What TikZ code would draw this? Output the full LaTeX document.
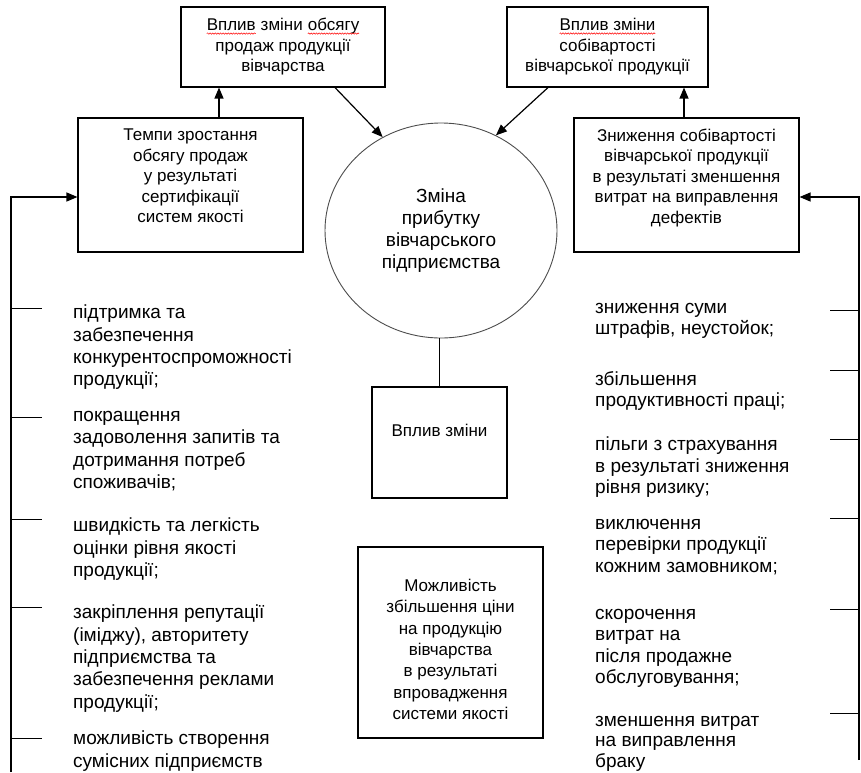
\documentclass[tikz,border=0pt]{standalone}
\usepackage{fontspec}
\setmainfont{Liberation Sans}
\usetikzlibrary{arrows.meta,shapes.geometric,decorations.pathmorphing}

\tikzset{
  blok/.style={draw, line width=1.1pt, align=center, inner sep=0pt,
    font=\fontsize{17}{20.5}\selectfont},
  kolo/.style={ellipse, draw=black!70, line width=0.9pt, align=center, inner sep=0pt,
    font=\fontsize{19}{22}\selectfont},
  punkt/.style={align=left, anchor=north west, inner sep=0pt,
    font=\fontsize{19}{22.3}\selectfont, execute at begin node=\strut},
  strilka/.style={-{Triangle[length=11pt,width=9pt]}, line width=1.2pt},
  rys/.style={line width=1pt},
}
% red spell-check wave under a word
\newcommand\hvylia[1]{\tikz[baseline=(hv.base)]{\node[draw=none, inner sep=0pt, outer sep=0pt,
    minimum width=0pt, minimum height=0pt] (hv) {#1};
  \draw[red, line width=0.5pt, decorate, decoration={snake, amplitude=0.7pt, segment length=2.6pt}]
    ([yshift=-2.6pt]hv.base west) -- ([yshift=-2.6pt]hv.base east);}}

\begin{document}
\begin{tikzpicture}[x=1pt,y=-1pt]
  \useasboundingbox (0,0) rectangle (861,772);

  % top boxes
  \node[blok, minimum width=204pt, minimum height=80pt] (obsyag) at (283,47)
    {\hvylia{Вплив} зміни \hvylia{обсягу}\\продаж продукції\\вівчарства};
  \node[blok, minimum width=201pt, minimum height=80pt] (sobiv) at (607.5,47)
    {\hvylia{Вплив зміни}\\собівартості\\вівчарської продукції};

  % side boxes
  \node[blok, minimum width=225pt, minimum height=134pt, text depth=18pt] (tempy) at (190.5,185)
    {Темпи зростання\\обсягу продаж\\у результаті\\сертифікації\\систем якості};
  \node[blok, minimum width=225pt, minimum height=134pt, text depth=18pt] (znyzh) at (686.5,185)
    {Зниження собівартості\\вівчарської продукції\\в результаті зменшення\\витрат на виправлення\\дефектів};

  % centre
  \node[kolo, minimum width=232pt, minimum height=215pt] (kolo) at (441,230.5)
    {Зміна\\прибутку\\вівчарського\\підприємства};
  \node[blok, minimum width=135pt, minimum height=111pt, text depth=24pt] (vplyv) at (439.5,442.5)
    {Вплив зміни};
  \node[blok, minimum width=185pt, minimum height=191pt, text height=154pt,
    font=\fontsize{17}{21.3}\selectfont] (tsina) at (450.5,642.5)
    {Можливість\\збільшення ціни\\на продукцію\\вівчарства\\в результаті\\впровадження\\системи якості};

  % arrows
  \draw[strilka] (tempy.north -| 219,0) -- (obsyag.south -| 219,0);
  \draw[strilka] (znyzh.north -| 684,0) -- (sobiv.south -| 684,0);
  \draw[strilka] (obsyag.south -| 335,0) -- (kolo.122);
  \draw[strilka] (sobiv.south -| 548,0) -- (kolo.60);
  \draw[rys] (kolo.south -| vplyv.north) -- (vplyv.north);

  % feedback lines
  \coordinate (livyi) at (11,772);
  \coordinate (pravyi) at (859,760);
  \draw[strilka] (livyi) |- (tempy.west |- 0,197);
  \draw[strilka] (pravyi) |- (znyzh.east |- 0,197);
  \foreach \y in {308,417,519,607,738}
    \draw[rys] (11,\y) -- (42,\y);
  \foreach \y in {310,370,439,518,609,713}
    \draw[rys] (830,\y) -- (859,\y);

  % left list
  \node[punkt] (l1) at (73,305) {підтримка та\\забезпечення\\конкурентоспроможності\\продукції;};
  \node[punkt] (l2) at (73,411) {покращення\\задоволення запитів та\\дотримання потреб\\споживачів;};
  \node[punkt] (l3) at (73,518) {швидкість та легкість\\оцінки рівня якості\\продукції;};
  \node[punkt] (l4) at (73,605) {закріплення репутації\\(іміджу), авторитету\\підприємства та\\забезпечення реклами\\продукції;};
  \node[punkt] (l5) at (73,731) {можливість створення\\сумісних підприємств};

  % right list
  \tikzset{punkt/.append style={font=\fontsize{19}{21.5}\selectfont}}
  \node[punkt] (r1) at (595,303) {зниження суми\\штрафів, неустойок;};
  \node[punkt] (r2) at (595,371) {збільшення\\продуктивності праці;};
  \node[punkt] (r3) at (595,437) {пільги з страхування\\в результаті зниження\\рівня ризику;};
  \node[punkt] (r4) at (595,519) {виключення\\перевірки продукції\\кожним замовником;};
  \node[punkt] (r5) at (595,609) {скорочення\\витрат на\\після продажне\\обслуговування;};
  \node[punkt, font=\fontsize{19}{20.5}\selectfont] (r6) at (595,716)
    {зменшення витрат\\на виправлення\\браку};
\end{tikzpicture}
\end{document}
